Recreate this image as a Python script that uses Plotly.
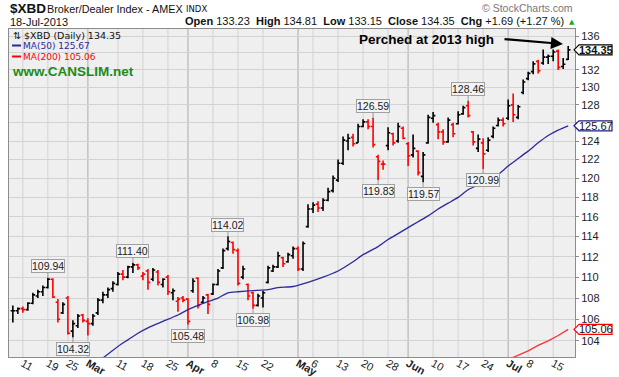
import math
import plotly.graph_objects as go

# ---------------- data ----------------
dates = [
    "2013-02-07", "2013-02-08", "2013-02-11", "2013-02-12", "2013-02-13", "2013-02-14", "2013-02-15",
    "2013-02-19", "2013-02-20", "2013-02-21", "2013-02-22", "2013-02-25", "2013-02-26", "2013-02-27",
    "2013-02-28", "2013-03-01", "2013-03-04", "2013-03-05", "2013-03-06", "2013-03-07", "2013-03-08",
    "2013-03-11", "2013-03-12", "2013-03-13", "2013-03-14", "2013-03-15", "2013-03-18", "2013-03-19",
    "2013-03-20", "2013-03-21", "2013-03-22", "2013-03-25", "2013-03-26", "2013-03-27", "2013-03-28",
    "2013-04-01", "2013-04-02", "2013-04-03", "2013-04-04", "2013-04-05", "2013-04-08", "2013-04-09",
    "2013-04-10", "2013-04-11", "2013-04-12", "2013-04-15", "2013-04-16", "2013-04-17", "2013-04-18",
    "2013-04-19", "2013-04-22", "2013-04-23", "2013-04-24", "2013-04-25", "2013-04-26", "2013-04-29",
    "2013-04-30", "2013-05-01", "2013-05-02", "2013-05-03", "2013-05-06", "2013-05-07", "2013-05-08",
    "2013-05-09", "2013-05-10", "2013-05-13", "2013-05-14", "2013-05-15", "2013-05-16", "2013-05-17",
    "2013-05-20", "2013-05-21", "2013-05-22", "2013-05-23", "2013-05-24", "2013-05-28", "2013-05-29",
    "2013-05-30", "2013-05-31", "2013-06-03", "2013-06-04", "2013-06-05", "2013-06-06", "2013-06-07",
    "2013-06-10", "2013-06-11", "2013-06-12", "2013-06-13", "2013-06-14", "2013-06-17", "2013-06-18",
    "2013-06-19", "2013-06-20", "2013-06-21", "2013-06-24", "2013-06-25", "2013-06-26", "2013-06-27",
    "2013-06-28", "2013-07-01", "2013-07-02", "2013-07-03", "2013-07-05", "2013-07-08", "2013-07-09",
    "2013-07-10", "2013-07-11", "2013-07-12", "2013-07-15", "2013-07-16", "2013-07-17", "2013-07-18",
]
opens = [
    106.8, 106.8, 107.0, 106.9, 107.5, 108.2, 108.6, 109.0, 109.8, 107.6, 106.6, 108.0, 104.9, 105.4,
    106.4, 105.8, 105.6, 106.6, 107.8, 108.3, 108.9, 109.3, 110.3, 110.0, 111.0, 111.2, 110.1, 110.6,
    109.8, 110.5, 109.3, 110.0, 108.5, 107.7, 108.0, 107.9, 108.7, 109.9, 107.6, 108.3, 108.4, 109.3,
    110.9, 112.8, 113.4, 112.6, 110.0, 109.3, 108.5, 107.3, 108.0, 109.5, 110.6, 111.0, 111.9, 111.5,
    112.1, 112.8, 110.8, 115.0, 116.8, 117.3, 116.9, 117.7, 118.7, 119.8, 121.6, 124.0, 124.4, 123.8,
    125.6, 126.1, 125.6, 122.3, 121.5, 123.5, 124.8, 124.0, 125.4, 123.7, 122.5, 122.9, 120.2, 123.8,
    126.5, 125.8, 125.0, 123.9, 125.8, 125.9, 127.0, 127.9, 125.0, 123.2, 123.8, 123.0, 124.5, 125.7,
    126.3, 126.5, 128.0, 126.6, 129.4, 131.0, 131.8, 133.0, 132.8, 133.5, 133.6, 134.2, 132.4, 133.23,
]
highs = [
    107.3, 107.1, 107.2, 107.6, 108.5, 108.8, 109.2, 109.94, 109.9, 107.9, 107.6, 108.2, 105.9, 106.5,
    106.5, 106.1, 106.5, 108.0, 108.6, 109.0, 109.6, 110.5, 110.7, 111.1, 111.40, 111.3, 110.5, 110.8,
    110.9, 110.7, 109.9, 110.2, 108.9, 108.1, 108.2, 108.0, 109.9, 110.0, 108.2, 108.4, 109.4, 110.8,
    112.8, 114.02, 113.5, 112.8, 111.1, 109.4, 108.6, 108.4, 108.7, 111.1, 111.2, 112.5, 112.0, 112.4,
    113.0, 113.0, 113.5, 117.3, 117.5, 117.6, 117.9, 119.0, 120.3, 122.0, 124.5, 124.8, 124.8, 125.9,
    126.4, 126.4, 126.59, 122.5, 121.9, 125.5, 124.9, 126.0, 125.6, 123.9, 124.7, 123.0, 122.8, 126.9,
    127.2, 126.0, 125.3, 126.6, 126.0, 127.3, 127.9, 128.46, 125.1, 124.7, 124.3, 124.4, 125.6, 126.6,
    126.6, 128.6, 129.3, 128.0, 130.9, 131.8, 133.0, 133.2, 134.4, 133.8, 134.4, 134.4, 133.4, 134.81,
]
lows = [
    105.7, 106.5, 106.6, 106.8, 107.4, 108.0, 108.2, 108.9, 108.0, 105.7, 106.5, 104.6, 104.32, 105.2,
    105.7, 104.5, 105.4, 106.4, 107.5, 108.0, 108.6, 109.2, 109.7, 109.9, 110.4, 110.7, 109.7, 108.8,
    109.6, 109.2, 109.0, 108.3, 107.8, 106.7, 107.6, 105.48, 108.5, 107.0, 107.5, 106.5, 108.3, 109.2,
    110.8, 112.6, 112.3, 109.2, 109.8, 107.8, 106.98, 107.2, 107.1, 109.4, 110.5, 110.9, 111.0, 111.4,
    111.8, 110.6, 110.6, 114.9, 116.4, 116.5, 116.6, 117.6, 118.5, 119.6, 121.4, 123.0, 123.4, 123.8,
    125.5, 125.3, 123.3, 119.83, 120.9, 123.0, 123.5, 123.8, 124.2, 121.3, 122.2, 120.3, 119.57, 123.7,
    126.0, 124.2, 123.6, 123.8, 124.4, 125.8, 126.9, 126.6, 123.5, 122.8, 120.99, 122.8, 124.3, 125.6,
    125.6, 126.3, 126.1, 126.4, 129.2, 130.8, 131.5, 131.6, 132.6, 132.7, 133.0, 132.0, 132.1, 133.15,
]
closes = [
    106.8, 107.0, 106.9, 107.5, 108.3, 108.6, 109.0, 109.8, 108.1, 106.0, 107.4, 104.7, 105.6, 106.3,
    105.9, 105.6, 106.3, 107.8, 108.3, 108.8, 109.4, 110.3, 110.0, 111.0, 111.2, 110.9, 110.3, 109.5,
    110.7, 109.5, 109.8, 108.6, 108.7, 107.9, 107.8, 105.8, 109.6, 107.3, 108.0, 107.4, 109.3, 110.6,
    112.6, 113.5, 112.7, 109.4, 110.8, 108.2, 107.3, 108.2, 108.5, 110.9, 111.0, 112.1, 111.3, 112.2,
    112.8, 110.8, 113.3, 116.8, 117.2, 116.9, 117.7, 118.6, 120.0, 121.6, 124.1, 124.3, 123.7, 125.6,
    126.1, 125.6, 123.6, 121.8, 121.5, 124.9, 123.8, 125.6, 124.3, 122.4, 123.2, 120.6, 122.5, 126.6,
    126.8, 125.0, 123.9, 126.3, 124.8, 126.9, 127.7, 126.8, 123.9, 124.2, 122.6, 124.1, 125.4, 126.3,
    125.9, 127.9, 126.9, 127.8, 130.6, 131.6, 132.7, 131.9, 133.5, 133.6, 134.1, 132.3, 132.66, 134.35,
]

ma50_dates = [
    "2013-03-06", "2013-03-11", "2013-03-13", "2013-03-15", "2013-03-19", "2013-03-22", "2013-03-27",
    "2013-04-01", "2013-04-04", "2013-04-09", "2013-04-11", "2013-04-15", "2013-04-18", "2013-04-23",
    "2013-04-25", "2013-04-30", "2013-05-03", "2013-05-08", "2013-05-13", "2013-05-16", "2013-05-20",
    "2013-05-23", "2013-05-28", "2013-05-30", "2013-06-03", "2013-06-05", "2013-06-07", "2013-06-11",
    "2013-06-13", "2013-06-17", "2013-06-19", "2013-06-24", "2013-06-27", "2013-07-01", "2013-07-03",
    "2013-07-08", "2013-07-10", "2013-07-12", "2013-07-16", "2013-07-18",
]
ma50_values = [
    102.45, 103.5, 104.1, 104.7, 105.2, 105.8, 106.4, 106.9, 107.5, 108.0, 108.5, 108.6, 108.7, 108.8,
    109.0, 109.1, 109.5, 110.0, 110.6, 111.5, 112.2, 113.0, 113.7, 114.3, 114.9, 115.5, 116.1, 116.8,
    117.4, 118.0, 118.8, 119.5, 120.4, 121.3, 122.1, 122.9, 123.8, 124.6, 125.2, 125.67,
]
ma200_dates = ["2013-07-01", "2013-07-03", "2013-07-08", "2013-07-10", "2013-07-12", "2013-07-16", "2013-07-18"]
ma200_values = [102.3, 102.7, 103.1, 103.6, 104.0, 104.5, 105.06]

tick_dates = [
    "2013-02-11", "2013-02-19", "2013-02-25", "2013-03-01", "2013-03-11", "2013-03-18", "2013-03-25",
    "2013-04-01", "2013-04-08", "2013-04-15", "2013-04-22", "2013-05-01", "2013-05-06", "2013-05-13",
    "2013-05-20", "2013-05-28", "2013-06-03", "2013-06-10", "2013-06-17", "2013-06-24", "2013-07-01",
    "2013-07-08", "2013-07-15",
]
tick_labels = ["11", "19", "25", "Mar", "11", "18", "25", "Apr", "8", "15", "22", "May", "6", "13",
               "20", "28", "Jun", "10", "17", "24", "Jul", "8", "15"]
month_labels = ["Mar", "Apr", "May", "Jun", "Jul"]

price_ticks = [104, 106, 108, 110, 112, 114, 116, 118, 120, 122, 124, 126, 128, 130, 132, 134, 136]
hidden_ticks = [126, 134]

callout_dates = ["2013-02-19", "2013-02-26", "2013-03-14", "2013-04-01", "2013-04-11", "2013-04-18",
                 "2013-05-22", "2013-05-23", "2013-06-06", "2013-06-19", "2013-06-24"]
callout_values = [109.94, 104.32, 111.40, 105.48, 114.02, 106.98, 126.59, 119.83, 119.57, 128.46, 120.99]
callout_kind = ["high", "low", "high", "low", "high", "low", "high", "low", "low", "high", "low"]

last_close = 134.35
ma50_last = 125.67
ma200_last = 105.06

# ---------------- figure ----------------
pos = {d: i for i, d in enumerate(dates)}
W, H = 619, 377
ML, MR, MT, MB = 9, 44, 29, 20
PW, PH = W - ML - MR, H - MT - MB

Y_LO, Y_HI = math.log10(102.54), math.log10(136.84)


def PX(x):
    return (x - ML) / PW


def PY(y):
    return (H - MB - y) / PH


def PV(v):
    return (math.log10(v) - Y_LO) / (Y_HI - Y_LO)


BLACK = "#000000"
RED = "#ff0000"
NAVY = "#2a2a9c"

up = [i for i in range(len(dates)) if i == 0 or closes[i] >= closes[i - 1]]
dn = [i for i in range(len(dates)) if i > 0 and closes[i] < closes[i - 1]]

fig = go.Figure()
for idxs, col in ((up, BLACK), (dn, RED)):
    fig.add_trace(go.Ohlc(
        x=[i for i in idxs],
        open=[opens[i] for i in idxs],
        high=[highs[i] for i in idxs],
        low=[lows[i] for i in idxs],
        close=[closes[i] for i in idxs],
        increasing=dict(line=dict(color=col, width=1.6)),
        decreasing=dict(line=dict(color=col, width=1.6)),
        tickwidth=0.45,
        hoverinfo="skip",
    ))

fig.add_trace(go.Scatter(x=[pos[d] for d in ma50_dates], y=ma50_values, mode="lines",
                         line=dict(color=NAVY, width=1.3, shape="spline", smoothing=0.6),
                         hoverinfo="skip"))
fig.add_trace(go.Scatter(x=[pos[d] for d in ma200_dates], y=ma200_values, mode="lines",
                         line=dict(color="#ff3030", width=1.3), hoverinfo="skip"))

shapes = []
for d, lab in zip(tick_dates, tick_labels):
    is_month = lab in month_labels
    shapes.append(dict(type="line", xref="x", yref="paper", x0=pos[d], x1=pos[d], y0=0, y1=1,
                       line=dict(color="#ababab" if is_month else "#d3d3d3", width=1), layer="below"))

# legend sample lines
shapes.append(dict(type="line", xref="paper", yref="paper", x0=PX(12), x1=PX(21), y0=PY(45.5), y1=PY(45.5),
                   line=dict(color=NAVY, width=2)))
shapes.append(dict(type="line", xref="paper", yref="paper", x0=PX(12), x1=PX(21), y0=PY(56.5), y1=PY(56.5),
                   line=dict(color=RED, width=2)))

annotations = []

# right-hand value boxes
hb = 5.0 / PH
for v, col, bold in ((last_close, "#000000", True), (ma50_last, "#1c1c8c", False), (ma200_last, RED, False)):
    yc = PV(v)
    path = "M {a},{yc} L {b},{t} L {c},{t} L {c},{bt} L {b},{bt} Z".format(
        a=PX(574), b=PX(579), c=PX(612), yc=yc, t=yc + hb, bt=yc - hb)
    shapes.append(dict(type="path", xref="paper", yref="paper", path=path,
                       fillcolor="white", line=dict(color=col, width=1.2), layer="above"))
    txt = "{:.2f}".format(v)
    annotations.append(dict(xref="paper", yref="paper", x=PX(596), y=yc, xanchor="center",
                            yanchor="middle", showarrow=False,
                            text="<b>" + txt + "</b>" if bold else txt,
                            font=dict(family="Liberation Sans, Arial", size=11, color="#111")))

# swing callouts
for d, v, k in zip(callout_dates, callout_values, callout_kind):
    annotations.append(dict(
        x=pos[d], y=math.log10(v), xref="x", yref="y", text="{:.2f}".format(v),
        showarrow=True, arrowhead=0, arrowwidth=1, arrowcolor="#9a9a9a",
        ax=0, ay=-11.5 if k == "high" else 11.5,
        bgcolor="#f3f3f3", bordercolor="#a0a0a0", borderwidth=1, borderpad=0,
        font=dict(family="Liberation Sans, Arial", size=10.5, color="#1a1a1a")))

# header texts
hdr = "Liberation Sans, Arial"
annotations += [
    dict(xref="paper", yref="paper", x=PX(8), y=PY(8.5), xanchor="left", yanchor="middle", showarrow=False,
         text="<b>$XBD</b>", font=dict(family=hdr, size=13.5, color="#111")),
    dict(xref="paper", yref="paper", x=PX(45), y=PY(8.5), xanchor="left", yanchor="middle", showarrow=False,
         text="Broker/Dealer Index - AMEX", font=dict(family=hdr, size=10.8, color="#111")),
    dict(xref="paper", yref="paper", x=PX(184), y=PY(9), xanchor="left", yanchor="middle", showarrow=False,
         text="INDX", font=dict(family="DejaVu Sans", size=8.5, color="#111")),
    dict(xref="paper", yref="paper", x=PX(8), y=PY(22), xanchor="left", yanchor="middle", showarrow=False,
         text="18-Jul-2013", font=dict(family=hdr, size=11, color="#111")),
    dict(xref="paper", yref="paper", x=PX(566), y=PY(21.5), xanchor="right", yanchor="middle", showarrow=False,
         text="<b>Open</b> 133.23\u00a0 <b>High</b> 134.81\u00a0 <b>Low</b> 133.15\u00a0 "
              "<b>Close</b> 134.35\u00a0 <b>Chg</b> +1.69 (+1.27 %)",
         font=dict(family=hdr, size=11, color="#111")),
    dict(xref="paper", yref="paper", x=PX(572), y=PY(22), xanchor="center", yanchor="middle", showarrow=False,
         text="\u25b2", font=dict(family="DejaVu Sans", size=7, color="#1aaa1a")),
    dict(xref="paper", yref="paper", x=PX(575), y=PY(7.5), xanchor="right", yanchor="middle", showarrow=False,
         text="\u00a9 StockCharts.com", font=dict(family=hdr, size=10.5, color="#777")),
    # in-plot legend
    dict(xref="paper", yref="paper", x=PX(11), y=PY(35), xanchor="left", yanchor="middle", showarrow=False,
         text="\u21c5 $XBD (Daily) 134.35", font=dict(family="DejaVu Sans", size=9.5, color="#111")),
    dict(xref="paper", yref="paper", x=PX(21), y=PY(45.5), xanchor="left", yanchor="middle", showarrow=False,
         text="MA(50) 125.67", font=dict(family="DejaVu Sans", size=9, color=NAVY)),
    dict(xref="paper", yref="paper", x=PX(21), y=PY(56.5), xanchor="left", yanchor="middle", showarrow=False,
         text="MA(200) 105.06", font=dict(family="DejaVu Sans", size=9, color=RED)),
    dict(xref="paper", yref="paper", x=PX(10), y=PY(71), xanchor="left", yanchor="middle", showarrow=False,
         text="<b>www.CANSLIM.net</b>", font=dict(family=hdr, size=13.5, color="#1a8c1a")),
    # note
    dict(xref="paper", yref="paper", x=PX(426), y=PY(39.5), xanchor="center", yanchor="middle", showarrow=False,
         text="<b>Perched at 2013 high</b>", font=dict(family=hdr, size=13.5, color="#000")),
    dict(xref="paper", yref="paper", x=PX(563), y=PY(44), text="", showarrow=True,
         ax=-60, ay=-5, arrowhead=2, arrowsize=1.1, arrowwidth=2.2, arrowcolor="#000"),
]

fig.update_layout(
    width=W, height=H,
    margin=dict(l=ML, r=MR, t=MT, b=MB, pad=0, autoexpand=False),
    paper_bgcolor="white", plot_bgcolor="#efefef",
    showlegend=False,
    font=dict(family="Liberation Sans, Arial", size=11, color="#222"),
    shapes=shapes, annotations=annotations,
    xaxis=dict(range=[-0.77, 112.36], tickmode="array",
               tickvals=[pos[d] for d in tick_dates],
               ticktext=["<b>%s</b>" % t if t in month_labels else t for t in tick_labels],
               showgrid=False, zeroline=False, showline=True, mirror=True, linecolor="#8c8c8c",
               ticks="", tickfont=dict(size=11, color="#222"), automargin=False,
               ticklabelstandoff=-5,
               rangeslider=dict(visible=False), fixedrange=True),
    yaxis=dict(type="log", range=[Y_LO, Y_HI], side="right", tickmode="array",
               tickvals=price_ticks,
               ticktext=["" if t in hidden_ticks else str(t) for t in price_ticks],
               showgrid=True, gridcolor="#d3d3d3", gridwidth=1, zeroline=False,
               showline=True, mirror=True, linecolor="#8c8c8c",
               ticks="outside", ticklen=3, tickcolor="#8c8c8c", automargin=False,
               tickfont=dict(size=11, color="#222"), fixedrange=True),
)

fig.write_html("out.html", config={"displayModeBar": False},
               post_script="document.body.style.margin='0';document.body.style.padding='0';"
                           "document.documentElement.style.overflow='hidden';")
